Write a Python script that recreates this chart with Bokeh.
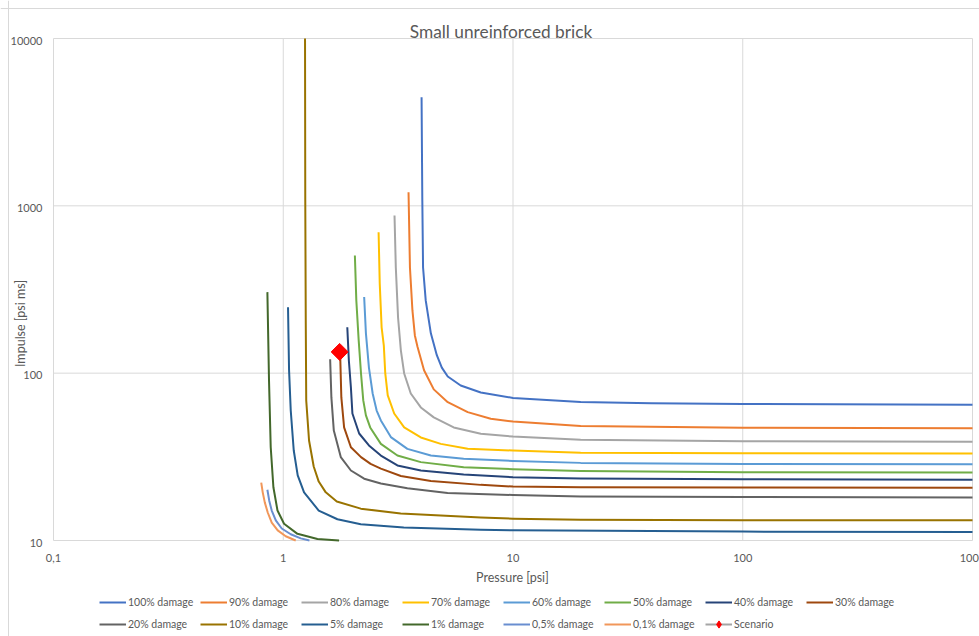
import math
from bokeh.plotting import figure
from bokeh.models import Range1d, Label, Legend, LegendItem, Span
from bokeh.core.properties import value
from bokeh.embed import file_html
from bokeh.resources import INLINE

# ---------------- data (pressure [psi], impulse [psi ms]) ----------------
series_labels = ["100% damage", "90% damage", "80% damage", "70% damage",
                 "60% damage", "50% damage", "40% damage", "30% damage",
                 "20% damage", "10% damage", "5% damage", "1% damage",
                 "0,5% damage", "0,1% damage"]

pressure_100 = [4.0, 4.03, 4.06, 4.17, 4.39, 4.66, 4.9, 5.2, 5.92, 7.24, 10, 19.7, 40, 100, 1000]
impulse_100 = [4450, 1077, 428, 272, 173, 128, 108, 95.5, 84.4, 76.7, 71.1, 67.3, 66.1, 65.5, 64.7]

pressure_90 = [3.51, 3.56, 3.65, 3.74, 3.84, 4.10, 4.52, 5.20, 6.35, 8.0, 10, 19.7, 100, 1000]
impulse_90 = [1207, 428, 237, 168, 144, 104, 80, 67.1, 58.5, 53.4, 51.4, 48.3, 47.2, 46.9]

pressure_80 = [3.05, 3.09, 3.16, 3.25, 3.36, 3.59, 3.97, 4.52, 5.52, 7.24, 10, 19.7, 100, 1000]
impulse_80 = [876, 428, 215, 137, 99.6, 75.6, 62.4, 54.4, 47.4, 43.4, 41.8, 40.0, 39.2, 38.9]

pressure_70 = [2.60, 2.63, 2.68, 2.74, 2.78, 2.85, 3.04, 3.36, 3.97, 4.85, 6.35, 10, 19.7, 100, 1000]
impulse_70 = [696, 344, 188, 146, 99.6, 73.6, 57.4, 47.4, 41.3, 37.8, 35.3, 34.5, 33.4, 33.2, 33.1]

pressure_60 = [2.25, 2.29, 2.36, 2.45, 2.55, 2.66, 2.94, 3.47, 4.39, 6.10, 10, 19.7, 100, 1000]
impulse_60 = [285, 173, 108, 75.6, 59.8, 52.2, 41.5, 35.3, 32.2, 30.8, 29.9, 29.1, 28.7, 28.6]

pressure_50 = [2.05, 2.08, 2.13, 2.18, 2.23, 2.29, 2.39, 2.66, 3.14, 3.97, 6.10, 10, 19.7, 100, 1000]
impulse_50 = [505, 272, 157, 99.6, 68.7, 55.9, 47.4, 37.8, 32.2, 29.4, 27.4, 26.7, 26.0, 25.6, 25.5]

pressure_40 = [1.90, 1.93, 1.97, 2.00, 2.14, 2.36, 2.66, 3.14, 3.97, 6.10, 10, 19.7, 100, 1000]
impulse_40 = [188, 119, 82.1, 57.4, 43.6, 37.0, 32.2, 28.1, 26.2, 24.8, 23.9, 23.5, 23.2, 23.1]

pressure_30 = [1.77, 1.79, 1.84, 1.97, 2.18, 2.40, 2.66, 3.25, 4.39, 7.24, 10, 19.7, 100, 1000]
impulse_30 = [126, 71.6, 47.4, 36.1, 31.5, 28.7, 26.9, 24.3, 22.7, 21.5, 21.0, 20.8, 20.75, 20.7]

pressure_20 = [1.60, 1.62, 1.66, 1.78, 1.97, 2.25, 2.66, 3.47, 5.19, 10, 19.7, 100, 1000]
impulse_20 = [121, 71.6, 45.4, 31.5, 26.2, 23.4, 21.9, 20.5, 19.2, 18.7, 18.3, 18.2, 18.1]

pressure_10 = [1.244, 1.247, 1.253, 1.259, 1.295, 1.357, 1.427, 1.531, 1.71, 2.175, 3.246, 7.24, 10, 19.7, 100, 1000]
impulse_10 = [10000, 1077, 206, 68.7, 39.6, 27.7, 22.5, 19.4, 17.1, 15.5, 14.5, 13.7, 13.5, 13.3, 13.2, 13.2]

pressure_5 = [1.049, 1.060, 1.078, 1.111, 1.156, 1.232, 1.427, 1.721, 2.175, 3.346, 7.24, 10, 100, 1000]
impulse_5 = [248, 104, 59.8, 34.5, 24.5, 19.4, 15.1, 13.4, 12.5, 11.96, 11.6, 11.5, 11.3, 11.25]

pressure_1 = [0.853, 0.867, 0.882, 0.906, 0.944, 1.008, 1.153, 1.409, 1.75]
impulse_1 = [305, 90.4, 36.1, 20.8, 15.1, 12.6, 10.96, 10.2, 10.0]

pressure_05 = [0.853, 0.869, 0.891, 0.928, 0.985, 1.078, 1.192, 1.30]
impulse_05 = [20.1, 17.3, 15.1, 13.2, 11.8, 10.9, 10.3, 10.0]

pressure_01 = [0.802, 0.814, 0.831, 0.856, 0.891, 0.946, 1.025, 1.133]
impulse_01 = [22.2, 19.4, 16.9, 14.7, 12.8, 11.5, 10.6, 10.0]

scenario_pressure = [1.76]
scenario_impulse = [134]

x_ticks = [0.1, 1, 10, 100, 1000]
x_tick_labels = ["0,1", "1", "10", "100", "1000"]
y_ticks = [10, 100, 1000, 10000]
y_tick_labels = ["10", "100", "1000", "10000"]

series_pressure = [pressure_100, pressure_90, pressure_80, pressure_70, pressure_60,
                   pressure_50, pressure_40, pressure_30, pressure_20, pressure_10,
                   pressure_5, pressure_1, pressure_05, pressure_01]
series_impulse = [impulse_100, impulse_90, impulse_80, impulse_70, impulse_60,
                  impulse_50, impulse_40, impulse_30, impulse_20, impulse_10,
                  impulse_5, impulse_1, impulse_05, impulse_01]

colors = ["#4472C4", "#ED7D31", "#A5A5A5", "#FFC000", "#5B9BD5", "#70AD47",
          "#264478", "#9E480E", "#636363", "#997300", "#255E91", "#43682B",
          "#698ED0", "#F1975A"]

TEXT = "#595959"
GRID = "#D9D9D9"
FONT = "Lato"

# ---------------- layout (pixels) ----------------
W, H = 979, 636
PLOT_L, PLOT_R, PLOT_T, PLOT_B = 53, 972, 38, 540
x_min, x_max = min(x_ticks), max(x_ticks)
y_min, y_max = min(y_ticks), max(y_ticks)
px_dec_x = (PLOT_R - PLOT_L) / (math.log10(x_max) - math.log10(x_min))
px_dec_y = (PLOT_B - PLOT_T) / (math.log10(y_max) - math.log10(y_min))
xr = Range1d(10 ** (math.log10(x_min) - PLOT_L / px_dec_x),
             10 ** (math.log10(x_max) + (W - PLOT_R) / px_dec_x))
yr = Range1d(10 ** (math.log10(y_min) - (H - PLOT_B) / px_dec_y),
             10 ** (math.log10(y_max) + PLOT_T / px_dec_y))

p = figure(width=W, height=H, x_axis_type="log", y_axis_type="log",
           x_range=xr, y_range=yr, output_backend="svg", toolbar_location=None,
           title=None, x_axis_location=None, y_axis_location=None, min_border=0)
p.outline_line_color = None
p.xgrid.visible = False
p.ygrid.visible = False
p.background_fill_color = "white"
p.border_fill_color = "white"

# chart-area border (Excel style)
p.add_layout(Span(location=8, location_units="screen", dimension="height",
                  line_color=GRID, line_width=1))
p.add_layout(Span(location=H - 8, location_units="screen", dimension="width",
                  line_color=GRID, line_width=1))

# gridlines at the decade ticks, limited to the plot area
p.segment(x0=x_ticks, y0=[y_min] * len(x_ticks), x1=x_ticks, y1=[y_max] * len(x_ticks),
          line_color=GRID, line_width=1)
p.segment(x0=[x_min] * len(y_ticks), y0=y_ticks, x1=[x_max] * len(y_ticks), y1=y_ticks,
          line_color=GRID, line_width=1)

# tick labels
p.text(x=x_ticks, y=[y_min] * len(x_ticks), text=x_tick_labels, y_offset=17,
       text_align="center", text_baseline="middle", text_font=value(FONT),
       text_font_size=value("11px"), text_color=TEXT)
p.text(x=[x_min] * len(y_ticks), y=y_ticks, text=y_tick_labels, x_offset=-11, y_offset=2,
       text_align="right", text_baseline="middle", text_font=value(FONT),
       text_font_size=value("11px"), text_color=TEXT)

items = []
for lab, xs, ys, c in zip(series_labels, series_pressure, series_impulse, colors):
    r = p.line(xs, ys, line_color=c, line_width=2, line_join="round")
    items.append(LegendItem(label=lab, renderers=[r]))

RED = "#FF0000"
r_sc_line = p.line(scenario_pressure, scenario_impulse, line_color="#A5A5A5", line_width=2)
# diamond key (used by the legend; hidden under the plotted marker)
r_sc_key = p.scatter(scenario_pressure, scenario_impulse, marker="diamond", size=12,
                     fill_color=RED, line_color=RED)
# plotted scenario marker: a square turned 45 degrees (Excel-like diamond)
p.scatter(scenario_pressure, scenario_impulse, marker="square", angle=math.pi / 4,
          size=12, fill_color=RED, line_color=RED)
items.append(LegendItem(label="Scenario", renderers=[r_sc_line, r_sc_key]))

legend = Legend(items=items, orientation="horizontal", nrows=2,
                location=(99, 3), glyph_width=27, glyph_height=18,
                label_height=18, label_width=68, label_standoff=2, spacing=4,
                padding=0, margin=0, border_line_color=None,
                background_fill_alpha=0, label_text_font=FONT,
                label_text_font_size="10.5px", label_text_color=TEXT)
p.add_layout(legend)

p.add_layout(Label(x=500.5, y=H - 31, x_units="screen", y_units="screen",
                   text="Small unreinforced brick", text_align="center",
                   text_baseline="middle", text_font=FONT,
                   text_font_size="17.3px", text_color=TEXT))
p.add_layout(Label(x=512, y=H - 577, x_units="screen", y_units="screen",
                   text="Pressure [psi]", text_align="center",
                   text_baseline="middle", text_font=FONT,
                   text_font_size="12.5px", text_color=TEXT))
p.add_layout(Label(x=20, y=H - 323, x_units="screen", y_units="screen",
                   angle=math.pi / 2, text="Impulse [psi ms]", text_align="center",
                   text_baseline="middle", text_font=FONT,
                   text_font_size="12.5px", text_color=TEXT))

open("out.html", "w").write(file_html(p, INLINE))
